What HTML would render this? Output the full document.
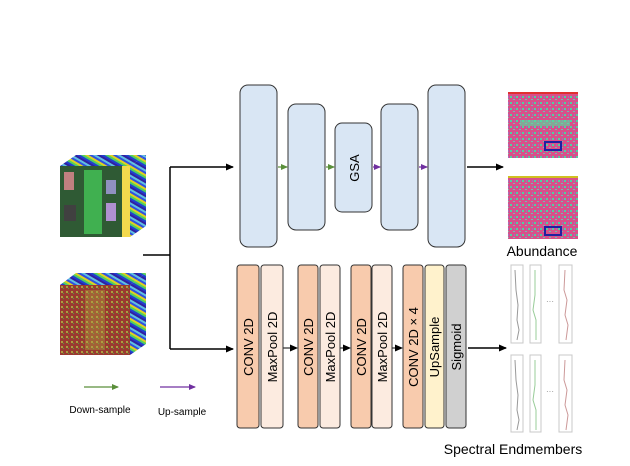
<!DOCTYPE html>
<html><head><style>body{margin:0;background:#fff}</style></head><body>
<svg width="630" height="461" xmlns="http://www.w3.org/2000/svg" font-family="Liberation Sans, sans-serif">
<defs>
<marker id="ab" markerWidth="8" markerHeight="8" refX="7" refY="4" orient="auto" markerUnits="userSpaceOnUse"><path d="M0,0.5 L8,4 L0,7.5z" fill="#000"/></marker>
<marker id="ag" markerWidth="7" markerHeight="7" refX="6" refY="3.5" orient="auto" markerUnits="userSpaceOnUse"><path d="M0,0.5 L7,3.5 L0,6.5z" fill="#5a8f3a"/></marker>
<marker id="ap" markerWidth="7" markerHeight="7" refX="6" refY="3.5" orient="auto" markerUnits="userSpaceOnUse"><path d="M0,0.5 L7,3.5 L0,6.5z" fill="#7030a0"/></marker>
<pattern id="st" width="12" height="12" patternUnits="userSpaceOnUse" patternTransform="rotate(-60)">
<rect width="12" height="12" fill="#2a9a8a"/><rect width="2" height="12" fill="#2040d0"/><rect x="2" width="2" height="12" fill="#50d060"/><rect x="4" width="2" height="12" fill="#e0d020"/><rect x="6" width="2" height="12" fill="#3050e0"/><rect x="8" width="2" height="12" fill="#60c0e0"/><rect x="10" width="2" height="12" fill="#3020a0"/></pattern>
<pattern id="noise" width="6" height="6" patternUnits="userSpaceOnUse"><rect width="6" height="6" fill="#d8508a"/><rect x="0" y="0" width="2" height="2" fill="#50d0a0"/><rect x="3" y="3" width="2" height="1" fill="#70c0b0"/><rect x="4" y="0" width="1" height="2" fill="#a070c0"/></pattern>
<pattern id="noise2" width="5" height="5" patternUnits="userSpaceOnUse"><rect width="5" height="5" fill="#9a3a30"/><rect x="1" y="1" width="2" height="2" fill="#a8a040"/><rect x="3" y="3" width="1" height="1" fill="#50a040"/></pattern>
</defs>
<!-- cube 1 -->
<polygon points="60,166 76,155 146,155 130,166" fill="url(#st)"/>
<polygon points="130,166 146,155 146,226 130,237" fill="url(#st)"/>
<polygon points="120,166 130,166 130,237 122,237" fill="#f0d020" opacity="0.8"/>
<rect x="60" y="166" width="62" height="71" fill="#2f5a34"/>
<rect x="64" y="172" width="10" height="18" fill="#c08080"/><rect x="84" y="170" width="18" height="64" fill="#40b050"/><rect x="106" y="180" width="10" height="14" fill="#9090c0"/><rect x="106" y="203" width="10" height="18" fill="#b090d0"/><rect x="64" y="205" width="12" height="16" fill="#404040"/>
<!-- cube 2 -->
<polygon points="60,285 76,273 146,273 130,285" fill="url(#st)"/>
<polygon points="130,285 146,273 146,344 130,355" fill="url(#st)"/>
<rect x="60" y="285" width="70" height="70" fill="url(#noise2)"/>
<rect x="85" y="290" width="20" height="60" fill="#b0a040" opacity="0.4"/>
<!-- connectors -->
<g stroke="#000" stroke-width="1.5" fill="none">
<line x1="143" y1="255" x2="170" y2="255"/>
<line x1="170" y1="167" x2="170" y2="349"/>
<line x1="170" y1="167" x2="233" y2="167" marker-end="url(#ab)"/>
<line x1="170" y1="349" x2="233" y2="349" marker-end="url(#ab)"/>
<line x1="467" y1="167" x2="503" y2="167" marker-end="url(#ab)"/>
<line x1="468" y1="348" x2="506" y2="348" marker-end="url(#ab)"/>
<line x1="283" y1="348" x2="297" y2="348" stroke-width="1" marker-end="url(#ab)"/>
<line x1="340" y1="348" x2="350" y2="348" stroke-width="1" marker-end="url(#ab)"/>
<line x1="392" y1="348" x2="402" y2="348" stroke-width="1" marker-end="url(#ab)"/>
</g>
<!-- top blocks -->
<g fill="#d9e6f4" stroke="#333" stroke-width="1">
<rect x="240" y="85" width="37" height="162" rx="8"/>
<rect x="288" y="104" width="37" height="126" rx="8"/>
<rect x="335" y="123" width="37" height="89" rx="7"/>
<rect x="381" y="104" width="37" height="126" rx="8"/>
<rect x="428" y="85" width="37" height="162" rx="8"/>
</g>
<g stroke-width="1.2">
<line x1="278" y1="167" x2="287" y2="167" stroke="#5a8f3a" marker-end="url(#ag)"/>
<line x1="326" y1="167" x2="334" y2="167" stroke="#5a8f3a" marker-end="url(#ag)"/>
<line x1="373" y1="167" x2="380" y2="167" stroke="#7030a0" marker-end="url(#ap)"/>
<line x1="419" y1="167" x2="427" y2="167" stroke="#7030a0" marker-end="url(#ap)"/>
</g>
<text transform="translate(359,168) rotate(-90)" text-anchor="middle" font-size="13">GSA</text>
<!-- bottom blocks -->
<g stroke="#333" stroke-width="1">
<rect x="237" y="265" width="22" height="163" rx="3" fill="#f8cbad"/>
<rect x="261" y="265" width="22" height="163" rx="3" fill="#fcebe0"/>
<rect x="298" y="265" width="20" height="163" rx="3" fill="#f8cbad"/>
<rect x="320" y="265" width="20" height="163" rx="3" fill="#fcebe0"/>
<rect x="351" y="265" width="20" height="163" rx="3" fill="#f8cbad"/>
<rect x="372" y="265" width="20" height="163" rx="3" fill="#fcebe0"/>
<rect x="403" y="265" width="20" height="163" rx="3" fill="#f8cbad"/>
<rect x="425" y="265" width="19" height="163" rx="3" fill="#fff2cc"/>
<rect x="446" y="265" width="20" height="163" rx="3" fill="#d0d0d0"/>
</g>
<g font-size="13" text-anchor="middle">
<text transform="translate(253,347) rotate(-90)">CONV 2D</text>
<text transform="translate(277,347) rotate(-90)">MaxPool 2D</text>
<text transform="translate(313,347) rotate(-90)">CONV 2D</text>
<text transform="translate(335,347) rotate(-90)">MaxPool 2D</text>
<text transform="translate(366,347) rotate(-90)">CONV 2D</text>
<text transform="translate(387,347) rotate(-90)">MaxPool 2D</text>
<text transform="translate(418,347) rotate(-90)">CONV 2D × 4</text>
<text transform="translate(439,347) rotate(-90)">UpSample</text>
<text transform="translate(461,347) rotate(-90)">Sigmoid</text>
</g>
<!-- abundance -->
<rect x="508" y="92" width="70" height="66" fill="url(#noise)"/>
<rect x="508" y="92" width="70" height="2" fill="#e03030"/>
<rect x="520" y="120" width="50" height="6" fill="#50e0a0" opacity="0.6"/>
<rect x="545" y="142" width="16" height="8" fill="none" stroke="#2020a0" stroke-width="2"/>
<rect x="508" y="176" width="70" height="63" fill="url(#noise)"/>
<rect x="508" y="176" width="70" height="2" fill="#d0c020"/>
<rect x="545" y="227" width="16" height="8" fill="none" stroke="#2020a0" stroke-width="2"/>
<text x="542" y="256" text-anchor="middle" font-size="14">Abundance</text>
<!-- endmembers -->
<g fill="none" stroke="#c8c8c8" stroke-width="1">
<rect x="511" y="265" width="12" height="78"/><rect x="530" y="265" width="11" height="78"/><rect x="559" y="265" width="13" height="78"/>
<rect x="511" y="355" width="12" height="77"/><rect x="530" y="355" width="11" height="77"/><rect x="559" y="355" width="13" height="77"/>
</g>
<g fill="none" stroke-width="1">
<path d="M515,270 L516,290 L518,305 L517,320 L519,330 L517,340" stroke="#999"/>
<path d="M535,270 L535,295 L533,310 L536,320 L536,340" stroke="#9c9"/>
<path d="M565,270 L564,290 L567,300 L565,315 L568,325 L566,340" stroke="#c99"/>
<path d="M515,360 L516,380 L518,395 L517,410 L519,420 L517,430" stroke="#999"/>
<path d="M535,360 L535,385 L533,400 L536,410 L536,430" stroke="#9c9"/>
<path d="M565,360 L564,380 L567,390 L565,405 L568,415 L566,430" stroke="#c99"/>
</g>
<text x="550" y="304" text-anchor="middle" font-size="8" fill="#888">···</text>
<text x="550" y="394" text-anchor="middle" font-size="8" fill="#888">···</text>
<text x="513" y="454" text-anchor="middle" font-size="14">Spectral Endmembers</text>
<!-- legend -->
<line x1="84" y1="387" x2="118" y2="387" stroke="#5a8f3a" stroke-width="1.2" marker-end="url(#ag)"/>
<line x1="160" y1="387" x2="195" y2="387" stroke="#7030a0" stroke-width="1.2" marker-end="url(#ap)"/>
<text x="100" y="413" text-anchor="middle" font-size="10">Down-sample</text>
<text x="182" y="415" text-anchor="middle" font-size="10">Up-sample</text>
</svg>
</body></html>
